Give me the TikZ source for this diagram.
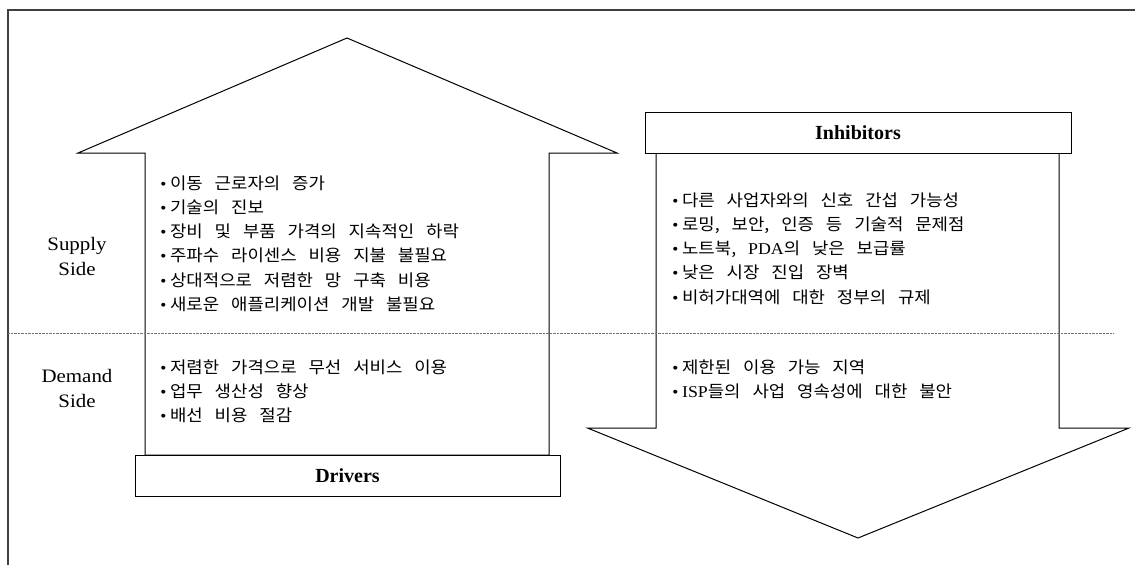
\documentclass[tikz,border=0pt]{standalone}
\usepackage{graphicx}
\usepackage{fontspec}
\newfontfamily\kr{Noto Sans CJK KR}
\newfontfamily\lat{Liberation Serif}
\newcommand\bul{\makebox[11pt][l]{\hspace{2pt}{\lat\fontsize{16}{16}\selectfont •}}}
\newcommand\la[1]{{\lat #1}}
\newlength\krspace
\setlength\krspace{11pt}
\newcommand\kl[1]{\scalebox{1.08}[1]{\spaceskip\krspace #1}}
\begin{document}
\begin{tikzpicture}[x=1pt,y=-1pt,line join=miter,
  frame/.style={draw=black!75,line width=1.3pt},
  arrowshape/.style={draw=black,line width=1pt,fill=white},
  labelbox/.style={draw=black,line width=1.2pt,fill=white,inner sep=0pt,anchor=north west},
  item/.style={anchor=base west,inner sep=0pt,font={\kr\fontsize{16.5}{16.5}\selectfont}},
  side/.style={align=center,inner sep=0pt,font={\lat\fontsize{19}{25}\selectfont}},
  boxtitle/.style={font={\lat\bfseries\fontsize{20}{20}\selectfont}},
  divider/.style={draw=black!55,line width=0.6pt,dash pattern=on 0.7pt off 0.7pt}]
\useasboundingbox (0,0) rectangle (1135,565);
% frame
\draw[frame] (1135,10) -- (8,10) -- (8,565);
% up arrow (drivers)
\draw[arrowshape] (347,38) -- (617,153) -- (549,153) -- (549,455) -- (145,455) -- (145,153) -- (78,153) -- cycle;
% down arrow (inhibitors)
\draw[arrowshape] (656,153) -- (1059,153) -- (1059,428) -- (1129,428) -- (858,538) -- (587.5,428) -- (656,428) -- cycle;
% divider
\draw[divider] (8,333) -- (1114,333);
% title boxes
\node[labelbox,minimum width=425pt,minimum height=41pt] (drivers) at (135,455) {};
\node[boxtitle] (driverstext) at (347.5,475.5) {Drivers};
\node[labelbox,minimum width=426pt,minimum height=41pt] (inhib) at (645,112) {};
\node[boxtitle] (inhibtext) at (858,132.5) {Inhibitors};
% side labels
\node[side] (supply) at (77,256) {\scalebox{1.1}[1]{Supply}\\\scalebox{1.1}[1]{Side}};
\node[side] (demand) at (77,388) {\scalebox{1.1}[1]{Demand}\\\scalebox{1.1}[1]{Side}};
% drivers supply
\node[item] (ds1) at (158,189.0) {\kl{\bul 이동 근로자의 증가}};
\node[item] (ds2) at (158,213.3) {\kl{\bul 기술의 진보}};
\node[item] (ds3) at (158,237.6) {\kl{\bul 장비 및 부품 가격의 지속적인 하락}};
\node[item] (ds4) at (158,261.9) {\kl{\bul 주파수 라이센스 비용 지불 불필요}};
\node[item] (ds5) at (158,286.2) {\kl{\bul 상대적으로 저렴한 망 구축 비용}};
\node[item] (ds6) at (158,310.5) {\kl{\bul 새로운 애플리케이션 개발 불필요}};
% drivers demand
\node[item] (dd1) at (158,373.0) {\kl{\bul 저렴한 가격으로 무선 서비스 이용}};
\node[item] (dd2) at (158,397.3) {\kl{\bul 업무 생산성 향상}};
\node[item] (dd3) at (158,421.6) {\kl{\bul 배선 비용 절감}};
% inhibitors supply
\node[item] (is1) at (670,206.0) {\kl{\bul 다른 사업자와의 신호 간섭 가능성}};
\node[item] (is2) at (670,230.3) {\kl{\bul 로밍, 보안, 인증 등 기술적 문제점}};
\node[item] (is3) at (670,254.6) {\kl{\bul 노트북, \la{PDA}의 낮은 보급률}};
\node[item] (is4) at (670,278.9) {\kl{\bul 낮은 시장 진입 장벽}};
\node[item] (is5) at (670,303.2) {\kl{\bul 비허가대역에 대한 정부의 규제}};
% inhibitors demand
\node[item] (id1) at (670,373.0) {\kl{\bul 제한된 이용 가능 지역}};
\node[item] (id2) at (670,397.3) {\kl{\bul \la{ISP}들의 사업 영속성에 대한 불안}};
\end{tikzpicture}
\end{document}
